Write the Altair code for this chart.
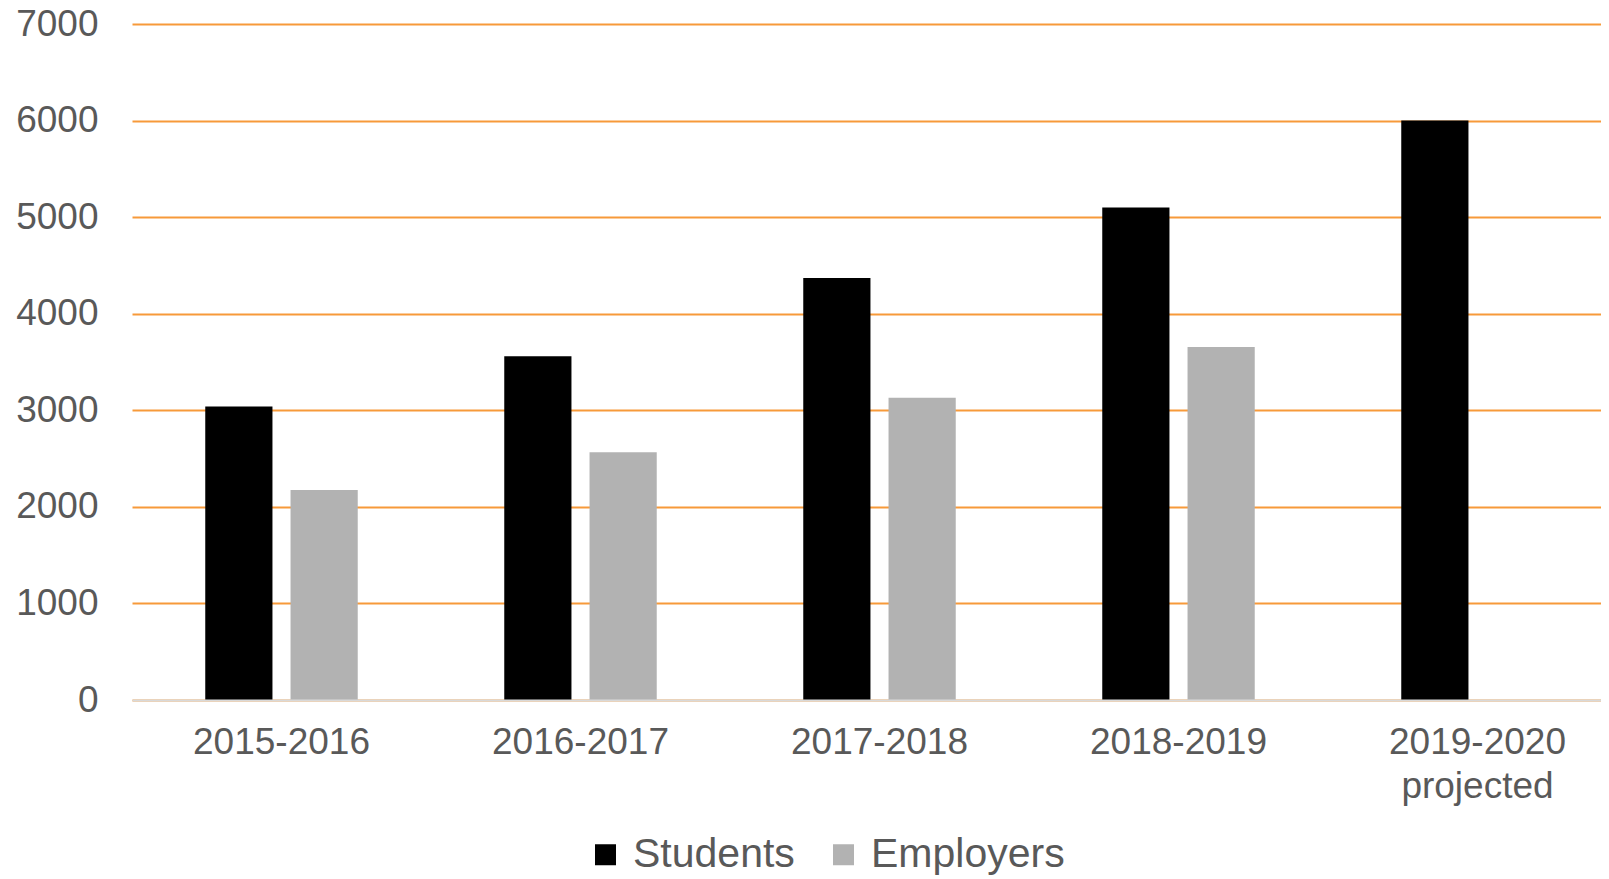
import altair as alt
import pandas as pd

years = ["2015-2016", "2016-2017", "2017-2018", "2018-2019", "2019-2020 projected"]
students = [3040, 3560, 4370, 5100, 6000]
employers = [2175, 2565, 3130, 3655, None]
series = ["Students", "Employers"]
colors = ["#000000", "#B2B2B2"]

rows = []
for y, s, e in zip(years, students, employers):
    rows.append({"year": y, "series": "Students", "value": s})
    if e is not None:
        rows.append({"year": y, "series": "Employers", "value": e})
df = pd.DataFrame(rows)

FONT = "Liberation Sans"
TXT = "#595959"

chart = alt.Chart(df).mark_bar().encode(
    x=alt.X("year:N", sort=years, title=None,
            scale=alt.Scale(paddingInner=0.49, paddingOuter=0.245, range=[0, 1495]),
            axis=alt.Axis(labelAngle=0, labelFont=FONT, labelFontSize=37, labelColor=TXT,
                          labelPadding=24, ticks=False, domainColor="#D9D9D9", domainWidth=2,
                          labelExpr="split(datum.label, ' ')", labelLineHeight=44,
                          zindex=1)),
    xOffset=alt.XOffset("series:N", sort=series,
                        scale=alt.Scale(paddingInner=0.212, paddingOuter=0)),
    y=alt.Y("value:Q", title=None,
            scale=alt.Scale(domain=[0, 7000], nice=False),
            axis=alt.Axis(values=[0, 1000, 2000, 3000, 4000, 5000, 6000, 7000], format="d",
                          labelFont=FONT, labelFontSize=37, labelColor=TXT, labelPadding=34,
                          ticks=False, domain=False, gridColor="#F79A3A", gridWidth=2)),
    color=alt.Color("series:N", sort=series, title=None,
                    scale=alt.Scale(domain=series, range=colors),
                    legend=alt.Legend(orient="none", legendX=453, legendY=810, direction="horizontal",
                                      symbolType="square", symbolSize=441, symbolStrokeWidth=0,
                                      labelFont=FONT, labelFontSize=41, labelColor=TXT,
                                      labelLimit=0, labelOffset=7, columnPadding=28)),
).properties(
    width=1469, height=676,
    autosize=alt.AutoSizeParams(type="none"),
    padding={"left": 124, "top": 16, "right": 0, "bottom": 175},
).configure_view(stroke=None)

chart.save("out.html", embed_options={"renderer": "svg", "actions": False})
